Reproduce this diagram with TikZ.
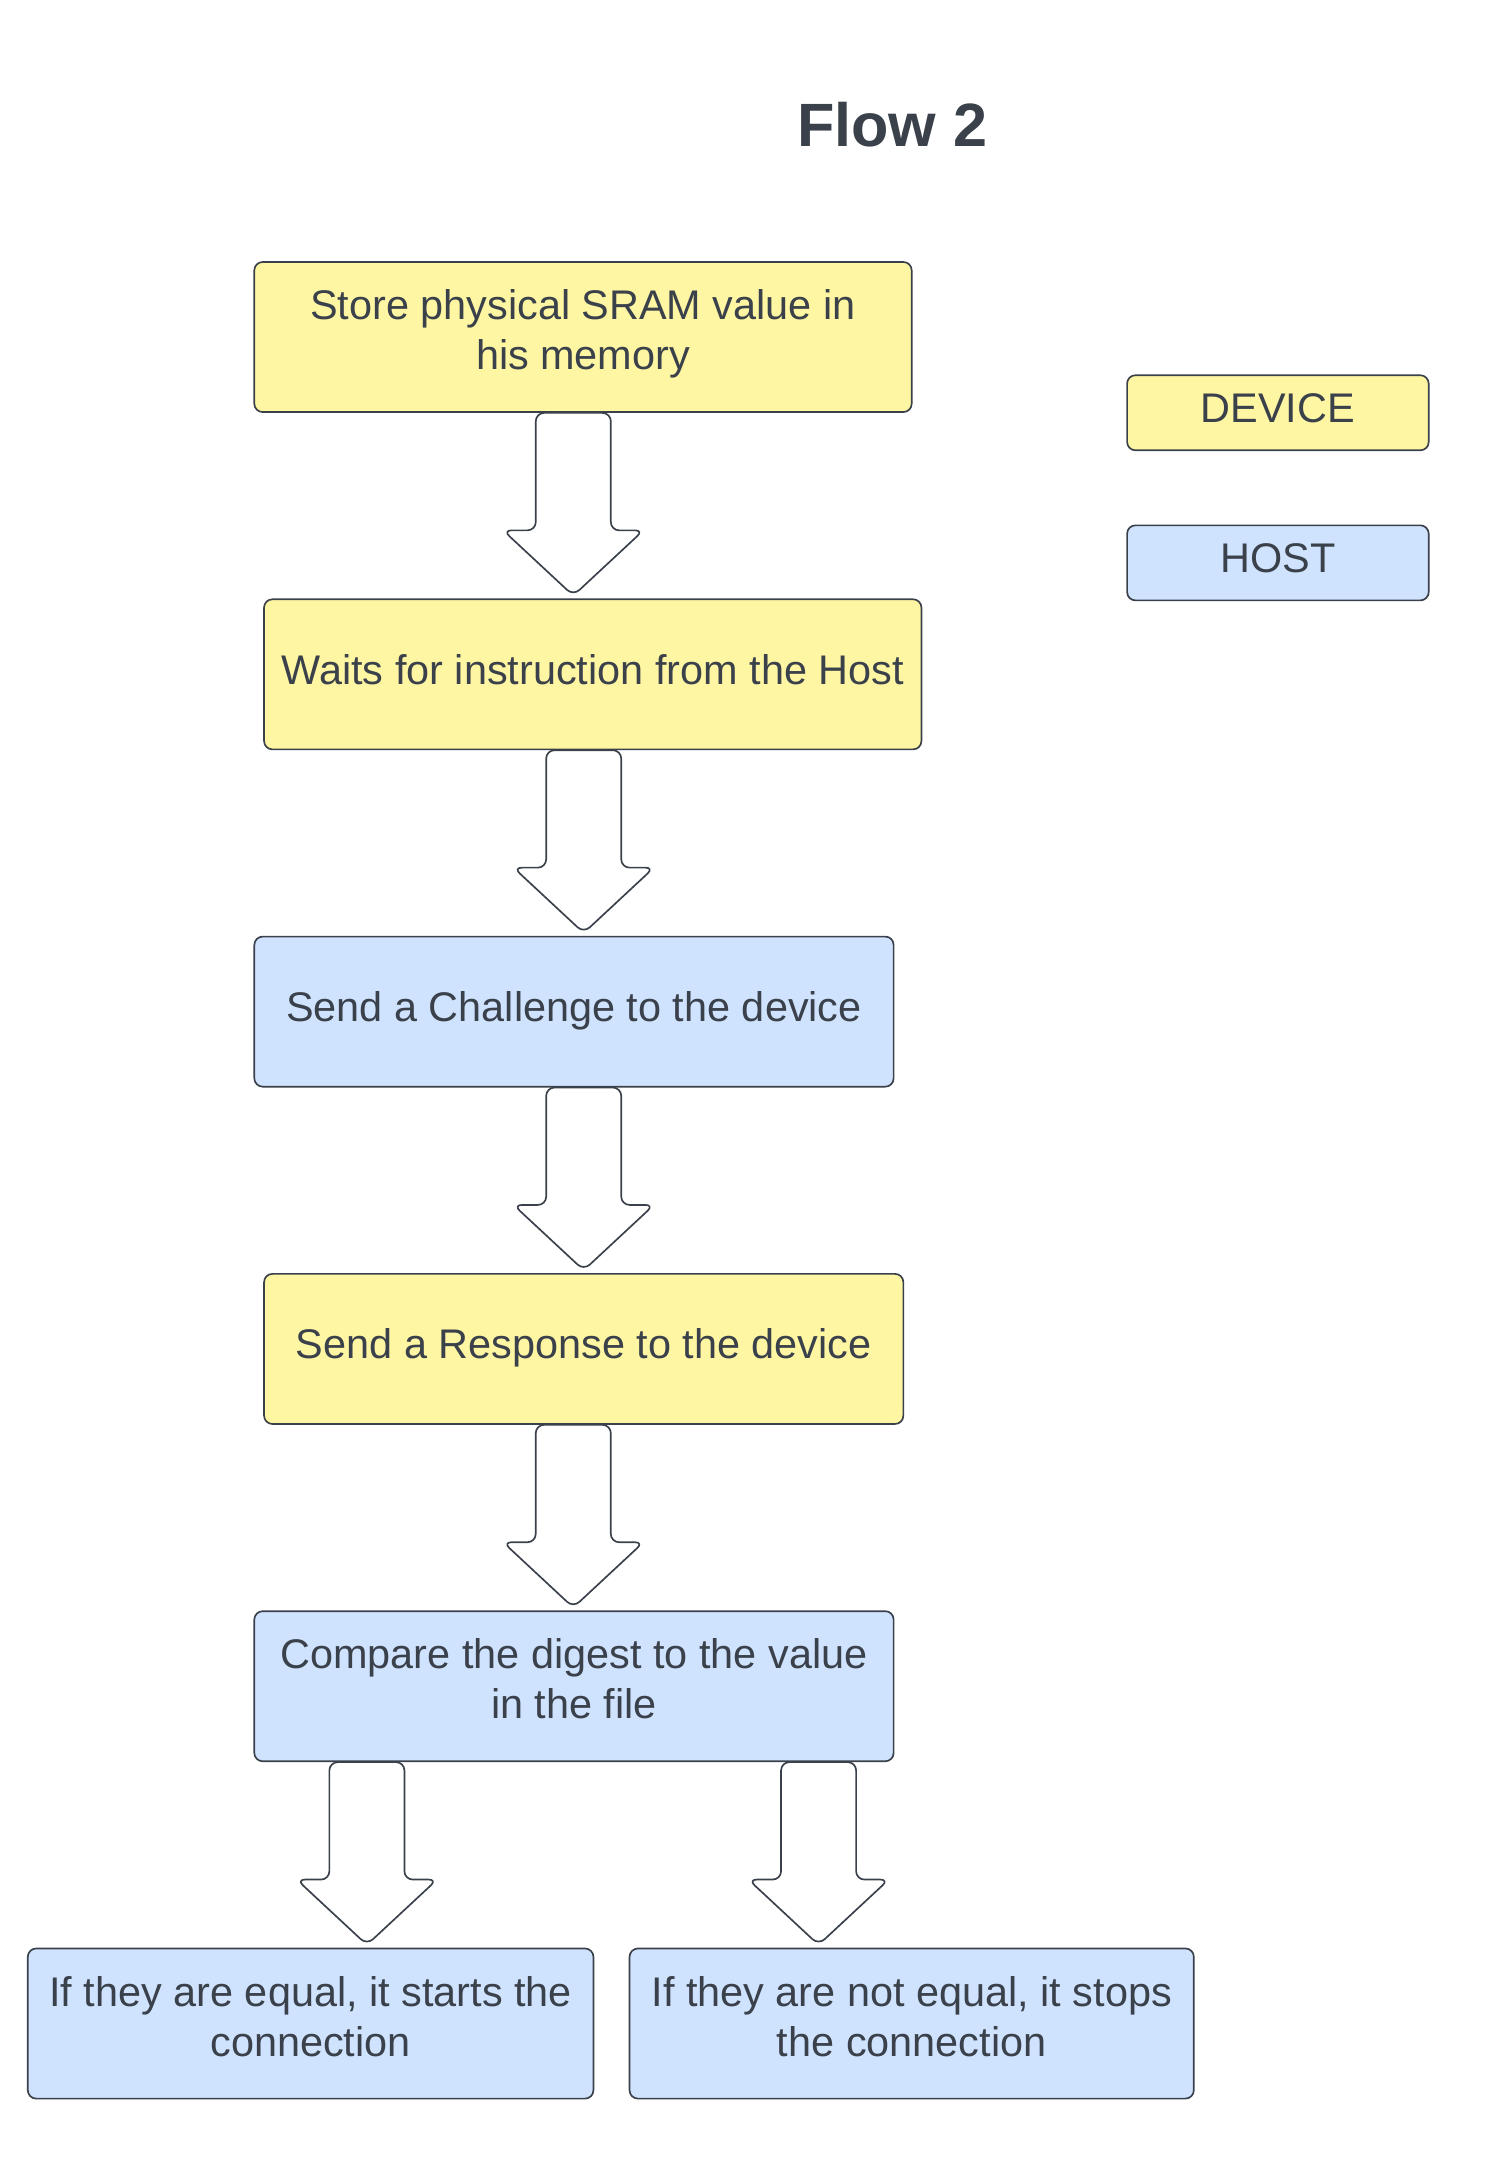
\documentclass[tikz,border=0pt]{standalone}
\usepackage{fontspec}
\setmainfont{Liberation Sans}
\usetikzlibrary{positioning,calc}

\definecolor{devicefill}{HTML}{FFF6A3}
\definecolor{hostfill}{HTML}{CFE3FF}
\definecolor{inkgray}{HTML}{3A414A}

\newcommand{\blockarrow}[3]{%
  \draw[blockarrow] let \p1=($(#1.south)+(#3,0)$), \p2=(#2.north) in
    (\x1-13.5pt,\y1) -- (\x1-13.5pt,\y2+24.5pt) -- (\x1-25.25pt,\y2+24.5pt) -- (\x1,\y2+1pt)
    -- (\x1+25.25pt,\y2+24.5pt) -- (\x1+13.5pt,\y2+24.5pt) -- (\x1+13.5pt,\y1) -- cycle;}

\begin{document}
\begin{tikzpicture}[x=0.5pt, y=-0.5pt, node distance=121.35pt, every node/.style={text=inkgray, rounded corners=3pt, line width=0.6pt, minimum height=54pt, text centered, align=center, font=\fontsize{14.9}{18}\selectfont}, device/.style={draw=inkgray, fill=devicefill, execute at begin node=\strut, execute at end node=\strut}, host/.style={draw=inkgray, fill=hostfill, execute at begin node=\strut, execute at end node=\strut}, blockarrow/.style={draw=inkgray, fill=white, line width=0.6pt, rounded corners=3pt, line join=round}]

\useasboundingbox (0,0) rectangle (1080,1565);

  % Nodes
  \node (title) [font=\bfseries\fontsize{22}{26}\selectfont] at (642,90) {Flow 2};
  \node (store) [device, minimum width=236.5pt] at (419.5,242.5) {Store physical SRAM value in\\his memory};
  \node (wait) [below of=store, xshift=3.5pt, device, minimum width=236.5pt] {Waits for instruction from the Host};
  \node (challenge) [below of=wait, xshift=-6.75pt, host, minimum width=230pt] {Send a Challenge to the device};
  \node (response) [below of=challenge, xshift=3.5pt, device, minimum width=230pt] {Send a Response to the device};
  \node (compare) [below of=response, xshift=-3.5pt, host, minimum width=230pt] {Compare the digest to the value\\in the file};
  \node (equal) [below of=compare, xshift=-94.75pt, host, minimum width=203.5pt] {If they are equal, it starts the\\connection};
  \node (notequal) [right of=equal, node distance=216.25pt, host, minimum width=203pt] {If they are not equal, it stops\\the connection};

  % Legend
  \node (devicekey) [device, minimum width=108.5pt, minimum height=27pt] at (919.5,297) {DEVICE};
  \node (hostkey) [below of=devicekey, node distance=54pt, host, minimum width=108.5pt, minimum height=27pt] {HOST};

  % Arrows
  \blockarrow{store}{wait}{-7}
  \blockarrow{wait}{challenge}{-6.5}
  \blockarrow{challenge}{response}{7}
  \blockarrow{response}{compare}{-7.5}
  \blockarrow{compare}{equal}{-149}
  \blockarrow{compare}{notequal}{176}

\end{tikzpicture}
\end{document}
